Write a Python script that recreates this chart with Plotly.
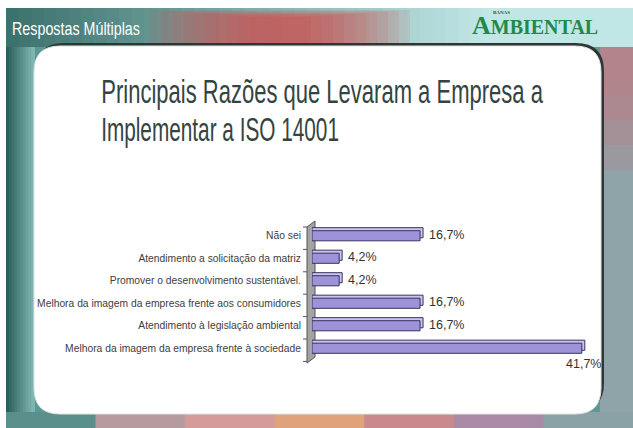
import plotly.graph_objects as go

W, H = 633, 428

categories = [
    "Não sei",
    "Atendimento a solicitação da matriz",
    "Promover o desenvolvimento sustentável.",
    "Melhora da imagem da empresa frente aos consumidores",
    "Atendimento à legislação ambiental",
    "Melhora da imagem da empresa frente à sociedade",
]
values = [16.7, 4.2, 4.2, 16.7, 16.7, 41.7]
value_labels = [f"{v:.1f}%".replace(".", ",") for v in values]

title_lines = ["Principais Razões que Levaram a Empresa a", "Implementar a ISO 14001"]
header_text = "Respostas Múltiplas"
brand_big = "A"
brand_rest = "MBIENTAL"
brand_small = "BANAS"


def px(x):
    return x / W


def py(y):
    return 1 - y / H


def rrect(x0, y0, x1, y1, r):
    rx, ry = r / W, r / H
    X0, X1 = px(x0), px(x1)
    Y0, Y1 = py(y0), py(y1)
    return (f"M {X0+rx},{Y0} L {X1-rx},{Y0} Q {X1},{Y0} {X1},{Y0-ry} "
            f"L {X1},{Y1+ry} Q {X1},{Y1} {X1-rx},{Y1} L {X0+rx},{Y1} "
            f"Q {X0},{Y1} {X0},{Y1+ry} L {X0},{Y0-ry} Q {X0},{Y0} {X0+rx},{Y0} Z")


def rect(x0, y0, x1, y1, color, opacity=1.0):
    return dict(type="rect", xref="paper", yref="paper", x0=px(x0), x1=px(x1),
                y0=py(y1), y1=py(y0), fillcolor=color, line=dict(width=0),
                opacity=opacity, layer="below")


def lerp(c1, c2, t):
    a = [int(c1[i:i+2], 16) for i in (1, 3, 5)]
    b = [int(c2[i:i+2], 16) for i in (1, 3, 5)]
    return "#" + "".join(f"{int(round(a[k]+(b[k]-a[k])*t)):02x}" for k in range(3))


shapes = []
shapes.append(rect(6, 8, 633, 428, "#5d9894"))
# header gradient
n = 50
for i in range(n):
    x0 = 6 + (633 - 6) * i / n
    x1 = 6 + (633 - 6) * (i + 1) / n + 1
    shapes.append(rect(x0, 8, x1, 47, lerp("#3c726d", "#c0e6e6", min(1, i / (n * 0.75)))))
# diffuse red smudge
for k in range(10):
    c = 285
    half = 125 - k * 11
    shapes.append(rect(c - half - 10, 10 + k * 0.8, c + half, 46, "#d44a46", 0.12))
# left strip gradient
for i in range(10):
    shapes.append(rect(6 + i * 2.8, 47, 6 + (i + 1) * 2.8 + 1, 428,
                       lerp("#2c5f5b", "#7db5b1", i / 9)))
# right strip
shapes.append(rect(600, 47, 633, 428, "#8ea4a9"))
for k in range(4):
    shapes.append(rect(600, 47, 633, 170 - k * 25, "#c8707a", 0.22))
# bottom strip gradient
bottom_cols = ["#5b8f8c", "#b59aa0", "#d59a9a", "#e0a27a", "#c88a8c", "#a88aa6", "#8aa2a6"]
nb = len(bottom_cols)
for i in range(nb):
    shapes.append(rect(6 + 627 * i / nb, 412, 6 + 627 * (i + 1) / nb + 1, 428, bottom_cols[i]))
# panel shadow (top/right) and panel
shapes.append(dict(type="path", xref="paper", yref="paper", path=rrect(36, 43, 604, 411, 28),
                   fillcolor="#2f3735", line=dict(width=0), layer="below"))
shapes.append(dict(type="path", xref="paper", yref="paper", path=rrect(34, 46, 601, 414, 26),
                   fillcolor="#ffffff", line=dict(color="#e2e5e5", width=1), layer="below"))
# 3D wall
wall = (f"M {px(307)},{py(227)} L {px(315)},{py(221)} L {px(315)},{py(357)} "
        f"L {px(307)},{py(363)} Z")
shapes.append(dict(type="path", xref="paper", yref="paper", path=wall,
                   fillcolor="#a3a3a3", line=dict(color="#555555", width=1), layer="below"))
for k in range(7):
    yy = 227 + k * 22.4
    shapes.append(dict(type="line", xref="paper", yref="paper", x0=px(303), x1=px(307),
                       y0=py(yy), y1=py(yy), line=dict(color="#555555", width=1),
                       layer="below"))

x_max = 45
bar_w = 0.45
depth_x = 3 / 6.47
depth_y = 3 / 22.4

fig = go.Figure()
fig.add_trace(go.Bar(
    y=categories, x=[v + depth_x for v in values], orientation="h",
    width=bar_w, offset=-bar_w / 2 - depth_y,
    marker=dict(color="#c9c2f0", line=dict(color="#3a335e", width=1)),
    hoverinfo="skip", showlegend=False,
))
fig.add_trace(go.Bar(
    y=categories, x=values, orientation="h",
    width=bar_w, offset=-bar_w / 2,
    marker=dict(color="#9d93d8", line=dict(color="#3a335e", width=1)),
    showlegend=False,
))

annotations = []
vmax = max(values)
for cat, v, lab in zip(categories, values, value_labels):
    if v == vmax:
        annotations.append(dict(x=v, y=cat, xref="x", yref="y", text=lab, showarrow=False,
                                xanchor="center", yanchor="middle", xshift=2, yshift=-16,
                                font=dict(family="Liberation Sans, Arial, sans-serif",
                                          size=12.5, color="#333333")))
    else:
        annotations.append(dict(x=v, y=cat, xref="x", yref="y", text=lab, showarrow=False,
                                xanchor="left", yanchor="middle", xshift=7, yshift=1,
                                font=dict(family="Liberation Sans, Arial, sans-serif",
                                          size=12.5, color="#333333")))

title_font = dict(family="Liberation Sans, Arial, sans-serif", size=34, color="#34443f")
text_annots = [
    dict(text=title_lines[0], x=px(99), y=py(91), xref="paper", yref="paper",
         xanchor="left", yanchor="middle", showarrow=False, font=title_font),
    dict(text=title_lines[1], x=px(99), y=py(129), xref="paper", yref="paper",
         xanchor="left", yanchor="middle", showarrow=False, font=title_font),
    dict(text=header_text, x=px(10), y=py(29), xref="paper", yref="paper",
         xanchor="left", yanchor="middle", showarrow=False,
         font=dict(family="Liberation Sans, Arial, sans-serif", size=18, color="#ffffff")),
    dict(text=f"<b><span style='font-size:26px'>{brand_big}</span>{brand_rest}</b>",
         x=px(600), y=py(26), xref="paper", yref="paper",
         xanchor="right", yanchor="middle", showarrow=False,
         font=dict(family="Liberation Serif, serif", size=20, color="#22894a")),
    dict(text="<b>" + brand_small + "</b>", x=px(491), y=py(12), xref="paper", yref="paper",
         xanchor="left", yanchor="middle", showarrow=False,
         font=dict(family="Liberation Serif, serif", size=5, color="#2b5a3c")),
]
annotations = text_annots + annotations

fig.update_layout(
    template="none",
    width=W, height=H,
    margin=dict(l=0, r=0, t=0, b=0),
    paper_bgcolor="#ffffff",
    plot_bgcolor="rgba(0,0,0,0)",
    barmode="overlay",
    shapes=shapes,
    annotations=annotations,
    showlegend=False,
    xaxis=dict(domain=[px(312), px(312 + x_max * 6.47)], range=[0, x_max],
               showgrid=False, zeroline=False, showline=False, showticklabels=False,
               ticks="", automargin=False, fixedrange=True),
    yaxis=dict(domain=[py(359.5), py(224.5)], range=[5.5, -0.5], type="category",
               categoryorder="array", categoryarray=categories,
               showgrid=False, zeroline=False, showline=False,
               ticks="outside", ticklen=8, tickcolor="rgba(0,0,0,0)",
               automargin=False, fixedrange=True,
               tickfont=dict(family="Liberation Sans, Arial, sans-serif", size=10.3, color="#404040")),
)

# Remove default page margin and condense the display-style headings to reference widths.
post_script = """
document.body.style.margin = '0';
document.body.style.padding = '0';
var gd = document.getElementById('{plot_id}');
function fitHeadings(){
  var targets = {'0': 442, '1': 238, '2': 128};
  gd.querySelectorAll('g.annotation').forEach(function(g){
    var i = g.getAttribute('data-index');
    if (!(i in targets)) return;
    var t = g.querySelector('text.annotation-text');
    if (!t) return;
    t.style.transform = '';
    var w = t.getBBox().width;
    if (!w) return;
    var s = targets[i] / w;
    t.style.transformBox = 'fill-box';
    t.style.transformOrigin = '0% 50%';
    t.style.transform = 'scaleX(' + s + ')';
  });
}
fitHeadings();
gd.on('plotly_afterplot', fitHeadings);
"""

fig.write_html("out.html", post_script=post_script, config={"displayModeBar": False})
